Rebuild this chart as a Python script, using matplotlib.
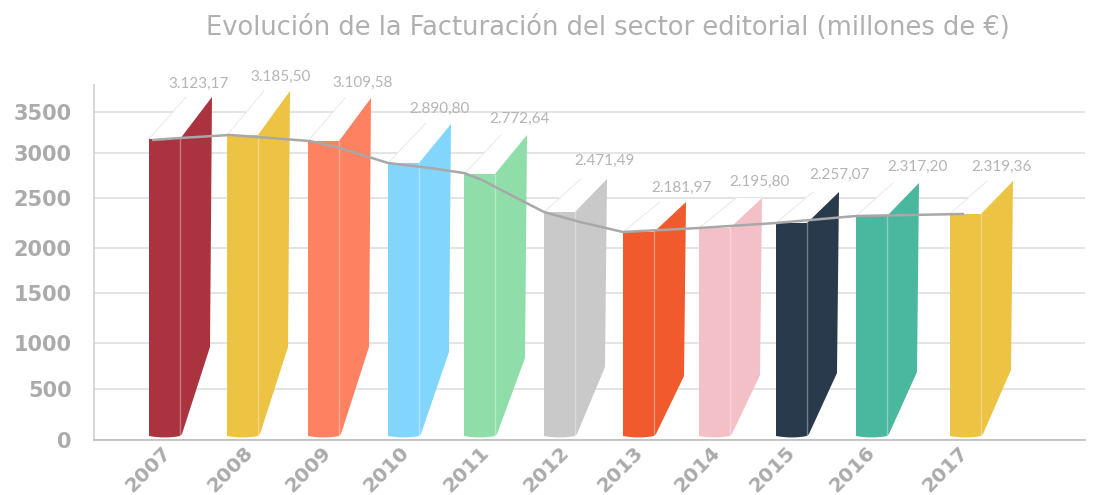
"""Evolucion de la facturacion del sector editorial, drawn as standing books."""

import matplotlib
matplotlib.use("Agg")
import matplotlib.pyplot as plt
import numpy as np
from matplotlib.patches import PathPatch, Polygon
from matplotlib.path import Path
from matplotlib.ticker import NullLocator

years = ["2007", "2008", "2009", "2010", "2011", "2012", "2013", "2014", "2015", "2016", "2017"]
value_labels = ["3.123,17", "3.185,50", "3.109,58", "2.890,80", "2.772,64", "2.471,49",
                "2.181,97", "2.195,80", "2.257,07", "2.317,20", "2.319,36"]
book_heights = [3171, 3220, 3146, 2889, 2767, 2360, 2160, 2200, 2250, 2320, 2340]
book_colors = ["#ab3340", "#edc343", "#fe8162", "#82d6fe", "#8fdea9", "#c9c9c9",
               "#f15a2d", "#f3c0c8", "#293a4d", "#4ab79f", "#edc343"]
line_x = [153, 180, 230, 270, 310, 340, 388, 430, 464, 482, 505, 544, 580, 623, 699, 776, 856, 963]
line_values = [3159, 3183, 3220, 3183, 3146, 3061, 2889, 2833, 2778, 2700, 2567, 2360,
               2260, 2160, 2200, 2250, 2320, 2340]
y_ticks = [0, 500, 1000, 1500, 2000, 2500, 3000, 3500]

# the source axis is not evenly spaced, so the scale follows the picture's gridlines
scale_values = np.array(y_ticks + [3830], dtype=float)
scale_heights = np.array([0, 51, 97, 147, 192, 242, 287, 328, 355], dtype=float)

# layout, in pixels
book_left = [149, 227, 308, 388, 464, 544, 623, 699, 776, 856, 950]
book_rise = [42, 44, 43, 39, 39, 33, 30, 30, 31, 33, 33]
fold_height = [93, 93, 93, 88, 82, 73, 64, 65, 67, 68, 70]
tick_x = [148, 230, 308, 386, 466, 546, 620, 697, 772, 852, 945]
label_x = [199, 281, 363, 439, 519, 604, 681, 759, 839, 917, 1001]
label_y = [84, 77, 83, 109, 119, 161, 188, 182, 175, 167, 167]


def to_height(v):
    return np.interp(v, scale_values, scale_heights)


def to_value(h):
    return np.interp(h, scale_heights, scale_values)


def draw_book(ax, left, top, rise, fold, color):
    h = float(to_height(top))
    mid = left + 31
    right = left + 63
    page = [(left, h), (left + 37, h + rise), (right, h + rise), (mid, h)]
    side = [(mid, h), (right, h + rise), (right - 2, fold), (mid + 2, 6), (mid, 4)]
    front = Path(
        [(left, to_value(h)), (mid, to_value(h)), (mid, to_value(4)),
         (left + 16, to_value(1)), (left, to_value(4)), (left, to_value(h))],
        [Path.MOVETO, Path.LINETO, Path.LINETO, Path.CURVE3, Path.CURVE3, Path.CLOSEPOLY],
    )
    as_data = lambda pts: [(x, float(to_value(y))) for x, y in pts]

    ax.add_patch(Polygon(as_data(page), closed=True, facecolor="white", edgecolor="none", zorder=2))
    ax.plot(*zip(*as_data(page[:2])), color="#efe6e2", lw=0.7, zorder=2)
    ax.add_patch(Polygon(as_data(side), closed=True, facecolor=color, edgecolor="none", zorder=3))
    ax.add_patch(PathPatch(front, facecolor=color, edgecolor="none", zorder=3))
    ax.plot([mid, mid], [to_value(h), to_value(5)], color="white", alpha=0.35, lw=1, zorder=4)


fig = plt.figure(figsize=(11, 4.95), dpi=100)
ax = fig.add_axes([94 / 1100, 1 - 440 / 495, 991 / 1100, 355 / 495])
ax.set_xlim(94, 1085)
ax.set_yscale("function", functions=(to_height, to_value))
ax.set_ylim(0, 3830)

ax.set_yticks(y_ticks)
ax.yaxis.set_minor_locator(NullLocator())
ax.set_yticklabels([str(t) for t in y_ticks], fontsize=15, fontweight="bold", color="#ababab")
ax.set_xticks(tick_x)
ax.set_xticklabels(years, rotation=45, ha="center", va="top", fontsize=14.5,
                   fontweight="bold", color="#ababab")
ax.tick_params(axis="both", length=0)
ax.tick_params(axis="y", pad=16)
ax.tick_params(axis="x", pad=2)

ax.grid(True, axis="y", color="#dcdcdc", lw=1.1, zorder=0)
ax.set_axisbelow(True)
for name in ("top", "right"):
    ax.spines[name].set_visible(False)
ax.spines["left"].set_color("#cfcfcf")
ax.spines["left"].set_linewidth(1.2)
ax.spines["bottom"].set_color("#bdbdbd")
ax.spines["bottom"].set_linewidth(1.2)

for i in range(len(years)):
    draw_book(ax, book_left[i], book_heights[i], book_rise[i], fold_height[i], book_colors[i])

ax.plot(line_x, line_values, color="#a8a8a8", lw=1.8, zorder=5, solid_capstyle="round")

for text, x, y in zip(value_labels, label_x, label_y):
    fig.text(x / 1100, 1 - y / 495, text, ha="center", va="center",
             fontsize=11, family="Lato", color="#b4b4b4")

fig.text(608 / 1100, 1 - 28 / 495, "Evolución de la Facturación del sector editorial (millones de €)",
         ha="center", va="center", fontsize=18.5, color="#b0b0b0")

fig.savefig("out.png", dpi=100)
plt.close(fig)
